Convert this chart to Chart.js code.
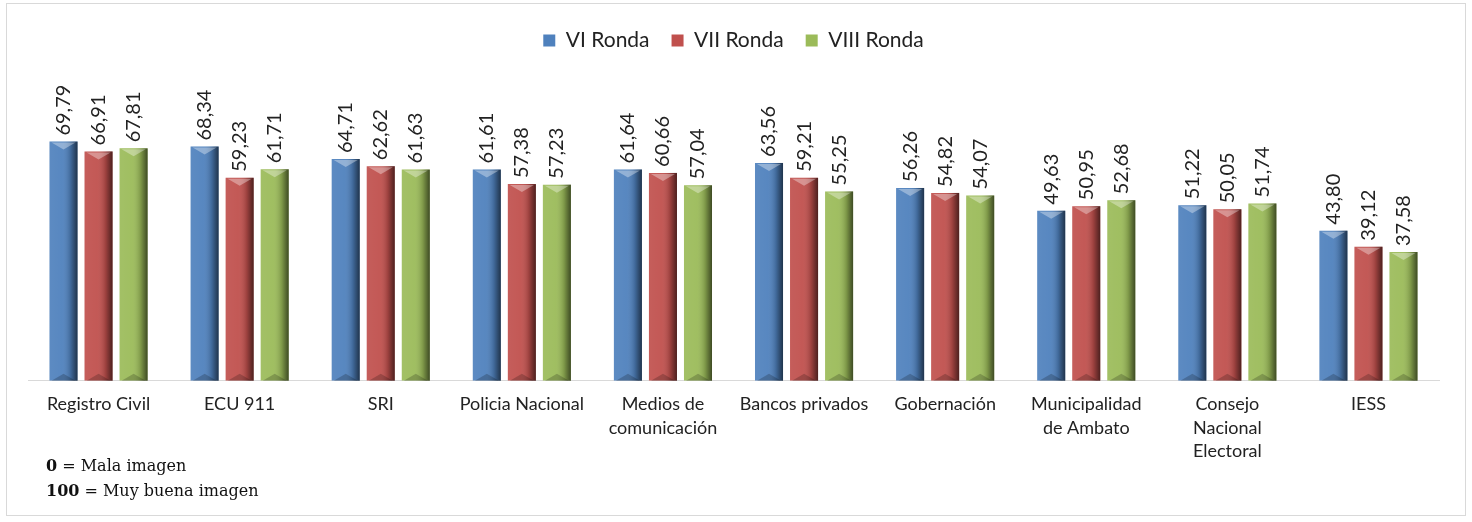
<!DOCTYPE html>
<html>
<head>
<meta charset="utf-8">
<script src="https://cdn.jsdelivr.net/npm/chart.js@4.4.1/dist/chart.umd.min.js"></script>
<style>
  html,body{margin:0;padding:0;background:#fff;}
  #wrap{position:relative;width:1472px;height:522px;}
</style>
</head>
<body>
<div id="wrap"><canvas id="chart" width="1472" height="522"></canvas></div>
<script>
const categories=[
  "Registro Civil","ECU 911","SRI","Policia Nacional",["Medios de","comunicación"],
  "Bancos privados","Gobernación",["Municipalidad","de Ambato"],["Consejo","Nacional","Electoral"],"IESS"
];
const seriesNames=["VI Ronda","VII Ronda","VIII Ronda"];
const ronda6=[69.79,68.34,64.71,61.61,61.64,63.56,56.26,49.63,51.22,43.80];
const ronda7=[66.91,59.23,62.62,57.38,60.66,59.21,54.82,50.95,50.05,39.12];
const ronda8=[67.81,61.71,61.63,57.23,57.04,55.25,54.07,52.68,51.74,37.58];
const noteLines=[["0"," = Mala imagen"],["100"," = Muy buena imagen"]];

const colors=["#4f81bd","#c0504d","#9bbb59"];
const font="Lato";

// 3D-ish shading on every bar
const shadePlugin={
  id:'shade',
  afterDatasetsDraw(chart){
    const ctx=chart.ctx;
    chart.data.datasets.forEach((ds,di)=>{
      chart.getDatasetMeta(di).data.forEach(bar=>{
        const l=bar.x-bar.width/2, r=bar.x+bar.width/2, t=bar.y, b=bar.base, w=bar.width;
        ctx.save();
        let g=ctx.createLinearGradient(l,0,r,0);
        g.addColorStop(0,'rgba(255,255,255,0.08)');
        g.addColorStop(0.45,'rgba(255,255,255,0.05)');
        g.addColorStop(0.75,'rgba(0,0,0,0.18)');
        g.addColorStop(1,'rgba(0,0,0,0.6)');
        ctx.fillStyle=g;
        ctx.fillRect(l,t,w,b-t);
        // top bevel
        ctx.fillStyle='rgba(255,255,255,0.35)';
        ctx.beginPath();
        ctx.moveTo(l+2,t+1);ctx.lineTo(r-2,t+1);ctx.lineTo(bar.x,t+8);ctx.closePath();
        ctx.fill();
        // bottom bevel
        ctx.fillStyle='rgba(0,0,0,0.2)';
        ctx.beginPath();
        ctx.moveTo(l+2,b);ctx.lineTo(r-2,b);ctx.lineTo(bar.x,b-7);ctx.closePath();
        ctx.fill();
        ctx.restore();
      });
    });
  }
};

// rotated value labels
const labelPlugin={
  id:'vals',
  afterDatasetsDraw(chart){
    const ctx=chart.ctx;
    ctx.save();
    ctx.font='20px '+font;
    ctx.fillStyle='#222';
    ctx.textAlign='left';
    ctx.textBaseline='middle';
    chart.data.datasets.forEach((ds,di)=>{
      chart.getDatasetMeta(di).data.forEach((bar,i)=>{
        ctx.save();
        ctx.translate(bar.x,bar.y-6);
        ctx.rotate(-Math.PI/2);
        ctx.fillText(ds.data[i].toFixed(2).replace('.',','),0,0);
        ctx.restore();
      });
    });
    ctx.restore();
  }
};

// frame + note
const framePlugin={
  id:'frame',
  beforeDraw(chart){
    const ctx=chart.ctx;
    ctx.save();
    ctx.fillStyle='#fff';
    ctx.fillRect(0,0,chart.width,chart.height);
    ctx.strokeStyle='#d9d9d9';
    ctx.lineWidth=1;
    ctx.strokeRect(6.5,3.5,1459,512);
    ctx.restore();
  },
  afterDraw(chart){
    const ctx=chart.ctx;
    ctx.save();
    ctx.fillStyle='#111';
    ctx.textBaseline='middle';
    noteLines.forEach((ln,i)=>{
      const y=467+i*25;
      ctx.font='bold 16px "DejaVu Serif"';
      ctx.fillText(ln[0],46,y);
      const w=ctx.measureText(ln[0]).width;
      ctx.font='16px "DejaVu Serif"';
      ctx.fillText(ln[1],46+w,y);
    });
    ctx.restore();
  }
};

new Chart(document.getElementById('chart'),{
  type:'bar',
  data:{
    labels:categories,
    datasets:[ronda6,ronda7,ronda8].map((d,i)=>({
      label:seriesNames[i],
      data:d,
      backgroundColor:colors[i],
      borderWidth:0,
      barPercentage:0.8,
      categoryPercentage:0.745
    }))
  },
  options:{
    responsive:false,
    animation:false,
    layout:{padding:{left:28,right:33,top:8,bottom:55}},
    plugins:{
      legend:{
        position:'top',
        labels:{
          font:{family:font,size:21},
          color:'#222',
          boxWidth:12,boxHeight:12,
          padding:22
        }
      },
      tooltip:{enabled:false}
    },
    scales:{
      x:{
        grid:{display:false},
        border:{color:'#d9d9d9'},
        ticks:{font:{family:font,size:18,lineHeight:1.3},color:'#222',maxRotation:0,autoSkip:false,padding:4}
      },
      y:{
        display:false,
        min:0,max:93.3
      }
    }
  },
  plugins:[framePlugin,shadePlugin,labelPlugin]
});
</script>
</body>
</html>
